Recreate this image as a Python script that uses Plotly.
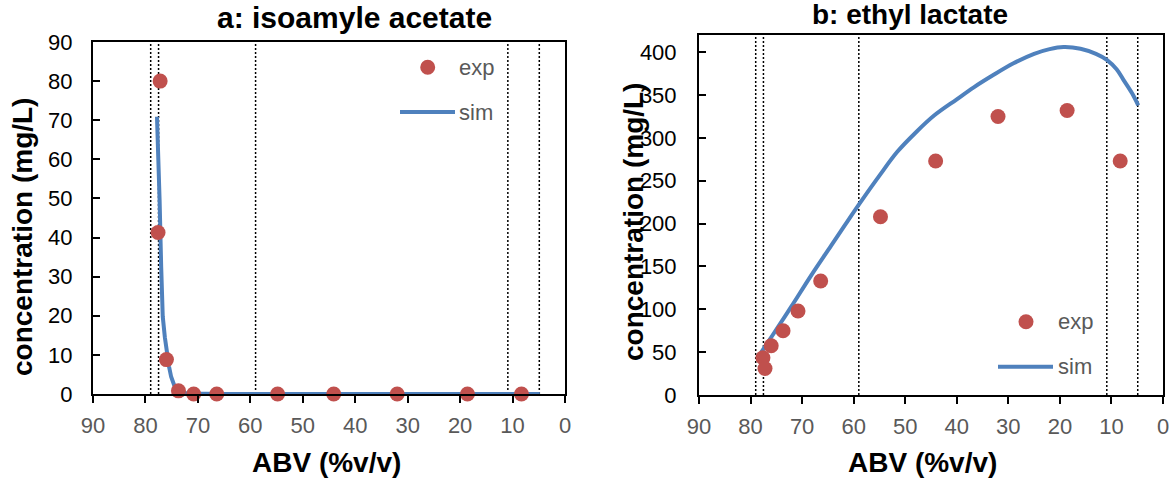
import plotly.graph_objects as go

W, H = 1171, 479

# ---------- data ----------
exp_abv = [77.6, 77.2, 76.0, 73.7, 70.8, 66.4, 54.8, 44.1, 32.0, 18.6, 8.3]
exp_isoamyl = [41.3, 80.0, 8.8, 0.8, 0.0, 0.0, 0.0, 0.0, 0.0, 0.0, 0.0]
exp_lactate = [43.5, 31.0, 57.5, 75.0, 98.0, 133.0, 208.0, 273.0, 325.0, 332.0, 273.0]

sim_a_abv = [77.8, 77.5, 77.3, 77.0, 76.7, 76.3, 76.0, 75.5, 75.1, 74.5, 73.8, 73.0,
             72.0, 70.0, 65.0, 55.0, 45.0, 30.0, 20.0, 10.0, 4.8]
sim_a_conc = [70.9, 60.0, 49.6, 32.5, 19.8, 14.5, 11.3, 7.0, 4.4, 2.2, 1.0, 0.4,
              0.15, 0.05, 0.0, 0.0, 0.0, 0.0, 0.0, 0.0, 0.0]

sim_b_abv = [77.9, 75.7, 72.1, 68.3, 64.4, 61.5, 58.9, 55.0, 51.5, 48.0, 44.4, 40.0, 36.7,
             33.0, 29.0, 25.0, 22.0, 19.3, 16.0, 13.0, 10.9, 9.0, 7.7, 6.0, 4.8]
sim_b_conc = [50, 70, 103, 139, 174, 200, 223, 256, 284, 306, 326, 345, 359,
              373, 387, 398, 403.5, 406, 404, 398, 391, 380, 368, 352, 338]

cut_abv = [79.0, 77.5, 59.0, 10.9, 4.9]

x_ticks = [90, 80, 70, 60, 50, 40, 30, 20, 10, 0]

FONT = "Liberation Sans, Arial, sans-serif"
RED = "#C0504D"
BLUE = "#4F81BD"
GRAY = "#595959"


def px(x):
    return x / W


def py(y):
    return 1 - y / H


fig = go.Figure()

# panel a
fig.add_trace(go.Scatter(x=sim_a_abv, y=sim_a_conc, mode="lines",
                         line=dict(color=BLUE, width=4), xaxis="x", yaxis="y",
                         showlegend=False))
fig.add_trace(go.Scatter(x=exp_abv, y=exp_isoamyl, mode="markers",
                         marker=dict(color=RED, size=15), xaxis="x", yaxis="y",
                         showlegend=False, cliponaxis=False))
# panel b
fig.add_trace(go.Scatter(x=sim_b_abv, y=sim_b_conc, mode="lines",
                         line=dict(color=BLUE, width=4, shape="spline", smoothing=1.0),
                         xaxis="x2", yaxis="y2", showlegend=False))
fig.add_trace(go.Scatter(x=exp_abv, y=exp_lactate, mode="markers",
                         marker=dict(color=RED, size=15), xaxis="x2", yaxis="y2",
                         showlegend=False))

shapes = []
for xr, yr in (("x", "y domain"), ("x2", "y2 domain")):
    for c in cut_abv:
        shapes.append(dict(type="line", xref=xr, yref=yr, x0=c, x1=c, y0=0, y1=1,
                           line=dict(color="black", width=1.5, dash="2px,2px"),
                           layer="below"))

annotations = []


def legend(cx, cy, lx0, lx1, ly, tx, ty_exp, ty_sim):
    r = 7.5
    shapes.append(dict(type="circle", xref="paper", yref="paper",
                       x0=px(cx - r), x1=px(cx + r), y0=py(cy + r), y1=py(cy - r),
                       fillcolor=RED, line=dict(width=0)))
    shapes.append(dict(type="line", xref="paper", yref="paper",
                       x0=px(lx0), x1=px(lx1), y0=py(ly), y1=py(ly),
                       line=dict(color=BLUE, width=4)))
    for t, yy in (("exp", ty_exp), ("sim", ty_sim)):
        annotations.append(dict(text=t, x=px(tx), y=py(yy), xref="paper", yref="paper",
                                xanchor="left", yanchor="middle", showarrow=False,
                                font=dict(family=FONT, size=22, color=GRAY)))


legend(427.7, 67.3, 400, 455, 112, 457, 67.3, 112)
legend(1026, 321.7, 998, 1053, 366.7, 1056, 321.7, 366.7)

# titles
for t, x, y, s in (("a: isoamyle acetate", 354, 17, 30), ("b: ethyl lactate", 910, 15, 28)):
    annotations.append(dict(text=f"<b>{t}</b>", x=px(x), y=py(y), xref="paper", yref="paper",
                            xanchor="center", yanchor="middle", showarrow=False,
                            font=dict(family=FONT, size=s, color="black")))
for x in (326, 922):
    annotations.append(dict(text="<b>ABV (%v/v)</b>", x=px(x), y=py(462), xref="paper",
                            yref="paper", xanchor="center", yanchor="middle", showarrow=False,
                            font=dict(family=FONT, size=28, color="black")))
for x, y in ((22, 237), (633, 222)):
    annotations.append(dict(text="<b>concentration (mg/L)</b>", x=px(x), y=py(y), xref="paper",
                            yref="paper", xanchor="center", yanchor="middle", showarrow=False,
                            textangle=-90,
                            font=dict(family=FONT, size=28, color="black")))

xcommon = dict(range=[90, 0], tickvals=x_ticks, ticks="outside", ticklen=7, tickwidth=1.5,
               tickcolor="black", showline=True, linecolor="black", linewidth=2, mirror=True,
               showgrid=False, zeroline=False, automargin=False, ticklabelstandoff=4,
               tickfont=dict(family=FONT, size=22, color=GRAY))
ycommon = dict(ticks="inside", ticklen=7, tickwidth=1.5, tickcolor="black",
               showline=True, linecolor="black", linewidth=2, mirror=True,
               showgrid=False, zeroline=False, automargin=False,
               tickfont=dict(family=FONT, size=22, color="black"))

fig.update_layout(
    width=W, height=H, margin=dict(l=0, r=0, t=0, b=0, pad=0, autoexpand=False),
    paper_bgcolor="white", plot_bgcolor="white",
    xaxis=dict(domain=[px(93), px(565)], anchor="y", **xcommon),
    yaxis=dict(domain=[py(394), py(42)], anchor="x", range=[0, 90], dtick=10,
               ticklabelstandoff=14, **ycommon),
    xaxis2=dict(domain=[px(699), px(1163)], anchor="y2", **xcommon),
    yaxis2=dict(domain=[py(395), py(35)], anchor="x2", range=[0, 420], dtick=50,
                ticklabelstandoff=16, **ycommon),
    shapes=shapes, annotations=annotations, showlegend=False,
)

fig.write_html("out.html", post_script="document.body.style.margin='0';",
               config={"displayModeBar": False})
